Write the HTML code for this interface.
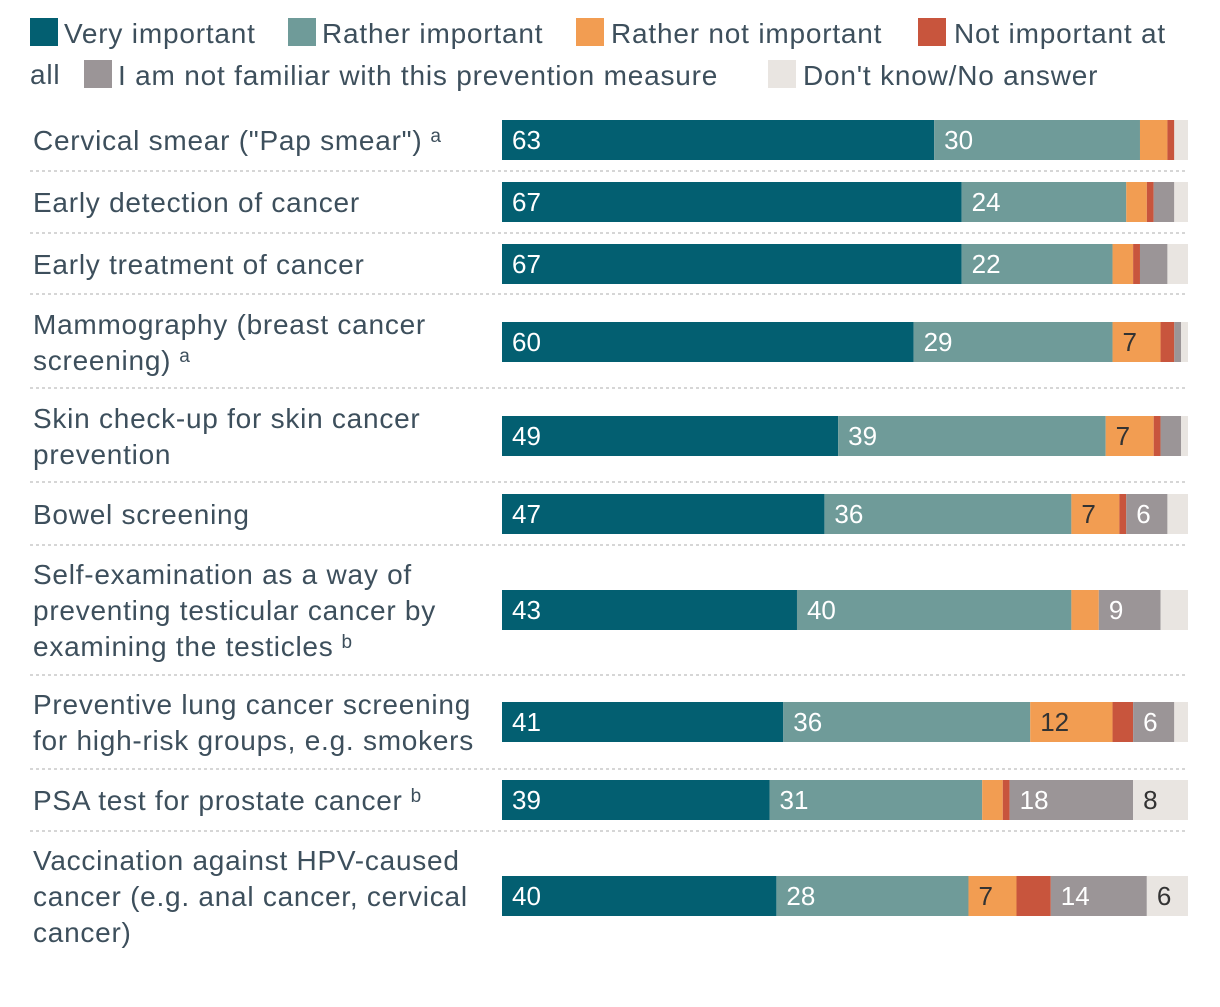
<!DOCTYPE html>
<html><head><meta charset="utf-8"><style>
body{margin:0;background:#fff;width:1220px;height:1002px;overflow:hidden}
svg{font-family:"Liberation Sans",sans-serif}
</style></head><body>
<svg id="chart" width="1220" height="1002">
<g id="legend" font-size="28" letter-spacing="0.8" fill="#3d4f5c"></g>
<g id="seps"></g>
<g id="labels" font-size="28" letter-spacing="0.75" fill="#3d4f5c"></g>
<g id="bars" font-size="26"></g>
</svg>
<script>
const categories=[["Cervical smear (\"Pap smear\")","a"],["Early detection of cancer",""],["Early treatment of cancer",""],["Mammography (breast cancer|screening)","a"],["Skin check-up for skin cancer|prevention",""],["Bowel screening",""],["Self-examination as a way of|preventing testicular cancer by|examining the testicles","b"],["Preventive lung cancer screening|for high-risk groups, e.g. smokers",""],["PSA test for prostate cancer","b"],["Vaccination against HPV-caused|cancer (e.g. anal cancer, cervical|cancer)",""]];
const veryImportant=[63,67,67,60,49,47,43,41,39,40];
const ratherImportant=[30,24,22,29,39,36,40,36,31,28];
const ratherNot=[4,3,3,7,7,7,4,12,3,7];
const notAtAll=[1,1,1,2,1,1,0,3,1,5];
const notFamiliar=[0,3,4,1,3,6,9,6,18,14];
const dontKnow=[2,2,3,1,1,3,4,2,8,6];
const seriesNames=["Very important","Rather important","Rather not important","Not important at all","I am not familiar with this prevention measure","Don't know/No answer"];
const series=[veryImportant,ratherImportant,ratherNot,notAtAll,notFamiliar,dontKnow];
const colors=["#035f71","#6f9b99","#f29d52","#c8553d","#9b9597","#e9e5e1"];
const textColors=["#fff","#fff","#333","#fff","#fff","#333"];
const barTops=[120,182,244,322,416,494,590,702,780,876];
const seps=[171,233,294,388,482,545,675,769,831];
const NS="http://www.w3.org/2000/svg";
const X0=502,W=686,BH=40;
const x=v=>X0+v/100*W;
function mk(t,a,p){const e=document.createElementNS(NS,t);for(const k in a)e.setAttribute(k,a[k]);p.appendChild(e);return e;}
const L=document.getElementById('legend');
const legPos=[[30,18,64],[288,18,322],[576,18,611],[918,18,954],[84,60,118],[768,60,803]];
seriesNames.forEach((n,i)=>{
 const [sx,sy,tx]=legPos[i];
 const r=mk('rect',{x:sx,y:sy,width:28,height:28,fill:colors[i]},L);
 
 
 let label=n;
 if(i===3){label="Not important at";const a=mk('text',{x:30,y:84},L);a.textContent="all";}
 const t=mk('text',{x:tx,y:sy+25},L);t.textContent=label;
 
 
});
const S=document.getElementById('seps');
seps.forEach(y=>{const l=mk('line',{x1:30,x2:1188,y1:y,y2:y,stroke:'#d6d6d6','stroke-width':2,'stroke-dasharray':'3,3'},S);
 });
const LB=document.getElementById('labels'),B=document.getElementById('bars');
categories.forEach((c,i)=>{
 const lines=c[0].split('|');const cy=barTops[i]+BH/2;
 const y0=cy-(lines.length-1)*18+10;
 const t=mk('text',{x:33,y:y0},LB);
 
 lines.forEach((ln,j)=>{const ts=mk('tspan',{x:33,y:y0+j*36},t);ts.textContent=ln;
  if(j===lines.length-1&&c[1]){const s=mk('tspan',{dx:8,dy:-8,'font-size':19},t);s.textContent=c[1];}});
 let acc=0;
 series.forEach((s,k)=>{
  const v=s[i];if(v<=0)return;
  const r=mk('rect',{x:x(acc),y:barTops[i],width:x(acc+v)-x(acc),height:BH,fill:colors[k]},B);
  
  if(v>=6){const tx=mk('text',{x:x(acc)+10,y:cy+9,fill:textColors[k]},B);tx.textContent=v;
   }
  acc+=v;});
});
</script>
</body></html>
